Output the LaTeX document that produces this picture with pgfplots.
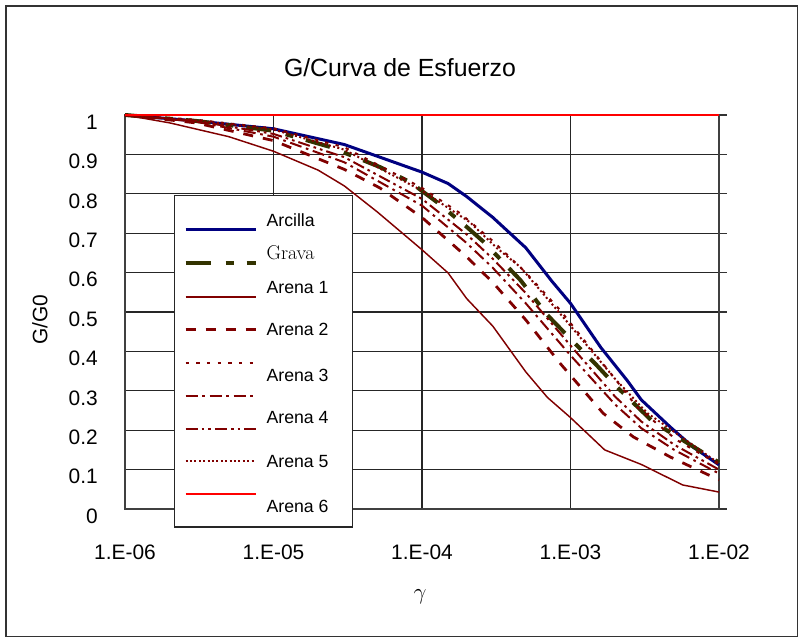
\documentclass[border=0pt]{standalone}
\usepackage{pgfplots}
\pgfplotsset{compat=1.18}
\usepackage{fontspec}
\setsansfont{Liberation Sans}
\definecolor{navyx}{HTML}{000080}
\definecolor{olivex}{HTML}{333300}
\definecolor{maroonx}{HTML}{800000}
\definecolor{redx}{HTML}{FF0000}
\newcommand\lt[2]{\makebox[57.75bp][l]{\smash{\raisebox{#1}{\fontsize{13.3}{15}\selectfont\sffamily #2}}}\rule[-11.55bp]{0pt}{23.1bp}}
\newcommand\ltr[2]{\makebox[57.75bp][l]{\smash{\raisebox{#1}{\fontsize{15}{17}\selectfont\rmfamily #2}}}\rule[-11.55bp]{0pt}{23.1bp}}
\begin{document}
\begin{tikzpicture}
\useasboundingbox (-93.75bp,-97.5bp) rectangle (506.25bp,381.75bp);
\begin{axis}[
  scale only axis, width=445.5bp, height=295.5bp,
  xmode=log, xmin=1e-6, xmax=1e-2, ymin=0, ymax=1,
  xtick={1e-6,1e-5,1e-4,1e-3,1e-2},
  xticklabels={1.E-06,1.E-05,1.E-04,1.E-03,1.E-02},
  ytick={0,0.1,0.2,0.3,0.4,0.5,0.6,0.7,0.8,0.9,1},
  yticklabels={0,0.1,0.2,0.3,0.4,0.5,0.6,0.7,0.8,0.9,1},
  xminorticks=false,
  grid=major, major grid style={black!85, line width=0.9bp},
  axis line style={black!75, line width=1bp},
  ytick pos=right, yticklabel pos=left,
  tick align=outside, major tick length=6bp,
  ytick style={black!80, line width=0.9bp},
  xtick style={draw=none},
  tick label style={font=\fontsize{15.75}{18}\selectfont\sffamily},
  xticklabel style={anchor=center, yshift=-26.75bp},
  yticklabel style={anchor=east, inner sep=0pt, xshift=-14.25bp, yshift=-5.25bp},
  title={G/Curva de Esfuerzo},
  title style={at={(axis description cs:0.46296,1.0990)}, anchor=center, font=\fontsize{18.7}{22}\selectfont\sffamily},
  xlabel={$\gamma$},
  xlabel style={at={(axis description cs:0.49663,-0.22335)}, anchor=center, font=\fontsize{16}{19}\selectfont},
  ylabel={G/G0},
  ylabel style={at={(axis description cs:-0.14310,0.47970)}, anchor=center, font=\fontsize{15.75}{18}\selectfont\sffamily},
  clip=false,
  legend style={at={(0.08249,0.79695)}, anchor=north west,
    draw=black!85, line width=0.9bp, fill=white,
    inner xsep=6.75bp, inner ysep=12.375bp,
    row sep=0pt, column sep=6.75bp,
    nodes={inner sep=0pt}},
  legend cell align=left,
  legend image code/.code={\draw[#1] (0bp,0bp) -- (52.5bp,0bp); \path (0bp,-11.55bp) (0bp,11.55bp);},
]
% Arcilla
\addplot[navyx, line width=2.25bp] coordinates {
(1e-6,1.000) (3e-6,0.985) (1e-5,0.965) (3e-5,0.925) (1e-4,0.855) (1.5e-4,0.826)
(2e-4,0.793) (3e-4,0.740) (5e-4,0.663) (7.5e-4,0.578) (1e-3,0.522) (1.6e-3,0.410)
(2.4e-3,0.327) (3e-3,0.277) (4.7e-3,0.208) (6.7e-3,0.157) (1e-2,0.112)};
\addlegendentry{\lt{7.25bp}{Arcilla}}
% Grava
\addplot[olivex, line width=3bp, dash pattern=on 18.75bp off 11.25bp on 6bp off 9.75bp] coordinates {
(1e-6,1.000) (3e-6,0.985) (1e-5,0.960) (2.4e-5,0.919) (5.2e-5,0.868) (8.3e-5,0.830)
(1.26e-4,0.779) (2e-4,0.716) (2.6e-4,0.678) (4.6e-4,0.581) (7e-4,0.492) (1.04e-3,0.425)
(1.5e-3,0.365) (2.05e-3,0.310) (3.6e-3,0.221) (8.3e-3,0.137) (1e-2,0.118)};
\addlegendentry{\ltr{7.65bp}{Grava}}
% Arena 1
\addplot[maroonx, line width=1.1bp] coordinates {
(1e-6,1.000) (2e-6,0.980) (5e-6,0.945) (1e-5,0.908) (2e-5,0.860) (3e-5,0.820)
(5e-5,0.754) (1e-4,0.658) (1.5e-4,0.599) (2e-4,0.534) (3e-4,0.464) (5e-4,0.348)
(7e-4,0.283) (1e-3,0.232) (1.7e-3,0.150) (3e-3,0.113) (5.7e-3,0.061) (1e-2,0.043)};
\addlegendentry{\lt{7.25bp}{Arena 1}}
% Arena 2
\addplot[maroonx, line width=2.1bp, dash pattern=on 7.5bp off 7.5bp] coordinates {
(1e-6,1.000) (3e-6,0.980) (1e-5,0.935) (3e-5,0.862) (5.2e-5,0.815) (1e-4,0.740)
(2e-4,0.640) (3e-4,0.575) (5e-4,0.480) (8.5e-4,0.370) (1.66e-3,0.243) (2.65e-3,0.183)
(4.7e-3,0.132) (1e-2,0.074)};
\addlegendentry{\lt{0.49bp}{Arena 2}}
% Arena 3 (dotted)
\addplot[maroonx, line width=1.5bp, dash pattern=on 2.5bp off 5.5bp] coordinates {
(1e-6,1.000) (3e-6,0.988) (1e-5,0.966) (3e-5,0.918) (1e-4,0.815) (1.8e-4,0.751)
(3e-4,0.680) (5e-4,0.600) (8.5e-4,0.505) (2e-3,0.330) (2.8e-3,0.259) (5.2e-3,0.175)
(1e-2,0.113)};
\addlegendentry{\lt{-8.51bp}{Arena 3}}
% dash-dot
\addplot[maroonx, line width=1.5bp, dash pattern=on 9bp off 3.5bp on 2bp off 3.5bp] coordinates {
(1e-6,1.000) (3e-6,0.983) (1e-5,0.945) (3e-5,0.880) (1e-4,0.770) (2e-4,0.675)
(3e-4,0.612) (5e-4,0.522) (1e-3,0.390) (2e-3,0.265) (3e-3,0.205) (5e-3,0.150)
(1e-2,0.090)};
\addlegendentry{\lt{0bp}{}}
% Arena 4 (dash-dot-dot)
\addplot[maroonx, line width=1.5bp, dash pattern=on 9bp off 3bp on 2bp off 3bp on 2bp off 3bp] coordinates {
(1e-6,1.000) (3e-6,0.985) (1e-5,0.952) (3e-5,0.893) (1e-4,0.787) (2e-4,0.697)
(3e-4,0.635) (5e-4,0.548) (1e-3,0.415) (2e-3,0.285) (3e-3,0.222) (5e-3,0.163)
(1e-2,0.100)};
\addlegendentry{\lt{8.74bp}{Arena 4}}
% Arena 5 (dense dots)
\addplot[maroonx, line width=1.5bp, dash pattern=on 1.5bp off 1.8bp] coordinates {
(1e-6,1.000) (3e-6,0.986) (1e-5,0.963) (3e-5,0.912) (1e-4,0.808) (2.1e-4,0.728)
(3.2e-4,0.662) (4.6e-4,0.614) (1e-3,0.465) (2e-3,0.330) (3.3e-3,0.243) (4.5e-3,0.208)
(8.3e-3,0.137) (1e-2,0.116)};
\addlegendentry{\lt{0.49bp}{Arena 5}}
% Arena 6
\addplot[redx, line width=1.5bp] coordinates {(1e-6,1) (1e-2,1)};
\addlegendentry{\lt{-8.51bp}{Arena 6}}
\end{axis}
\draw[black!80, line width=1.1bp] (-89.25bp,-95.6bp) rectangle (504.4bp,377.25bp);
\end{tikzpicture}
\end{document}
